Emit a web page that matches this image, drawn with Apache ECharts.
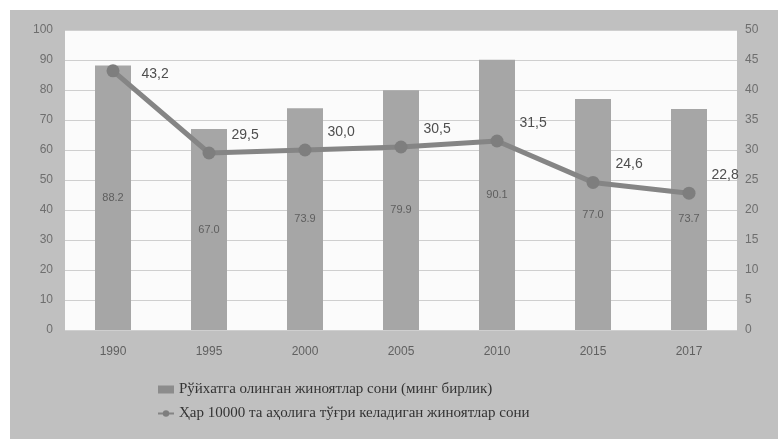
<!DOCTYPE html>
<html>
<head>
<meta charset="utf-8">
<script src="https://cdn.jsdelivr.net/npm/echarts@6/dist/echarts.min.js"></script>
<style>
html,body{margin:0;padding:0;background:#ffffff;width:778px;height:439px;overflow:hidden;}
#chart{position:absolute;left:10px;top:10px;width:768px;height:429px;}
</style>
</head>
<body>
<div id="chart"></div>
<script>
const categories = ['1990', '1995', '2000', '2005', '2010', '2015', '2017'];
const registeredCrimes = [88.2, 67.0, 73.9, 79.9, 90.1, 77.0, 73.7];
const crimesPer10000 = [43.2, 29.5, 30.0, 30.5, 31.5, 24.6, 22.8];
const seriesNames = [
  'Рўйхатга олинган жиноятлар сони (минг бирлик)',
  'Ҳар 10000 та аҳолига тўғри келадиган жиноятлар сони'
];

const chart = echarts.init(document.getElementById('chart'));
const lineData = crimesPer10000.map((v, i) => i === 0
  ? { value: v, label: { offset: [6, 3] } }
  : v);

chart.setOption({
  backgroundColor: '#c0c0c0',
  animation: false,
  textStyle: { fontFamily: 'Liberation Sans' },
  grid: { left: 55, top: 20, width: 672, height: 300, show: true, backgroundColor: '#fbfbfb', borderWidth: 0 },
  legend: {
    orient: 'vertical',
    left: 142,
    top: 367,
    itemGap: 10,
    itemWidth: 16,
    itemHeight: 8,
    itemGap: 9,
    textStyle: { fontFamily: 'Liberation Serif', fontSize: 15, color: '#333333' },
    data: [
      { name: seriesNames[0], icon: 'rect', itemStyle: { color: '#8c8c8c' } },
      { name: seriesNames[1] }
    ]
  },
  xAxis: {
    type: 'category',
    data: categories,
    axisLine: { show: false },
    axisTick: { show: false },
    axisLabel: { margin: 16, color: '#606060', fontSize: 12 }
  },
  yAxis: [
    {
      type: 'value', min: 0, max: 100, interval: 10,
      axisLine: { show: false }, axisTick: { show: false },
      axisLabel: { margin: 12, color: '#6e6e6e', fontSize: 12 },
      splitLine: { lineStyle: { color: '#cfcfcf', width: 1 } }
    },
    {
      type: 'value', min: 0, max: 50, interval: 5,
      axisLine: { show: false }, axisTick: { show: false },
      axisLabel: { margin: 8, color: '#6e6e6e', fontSize: 12 },
      splitLine: { show: false }
    }
  ],
  series: [
    {
      name: seriesNames[0],
      type: 'bar',
      data: registeredCrimes,
      barWidth: 36,
      itemStyle: { color: '#a6a6a6' },
      label: {
        show: true, position: 'inside', color: '#5e5e5e', fontSize: 11,
        formatter: p => p.value.toFixed(1)
      }
    },
    {
      name: seriesNames[1],
      type: 'line',
      yAxisIndex: 1,
      data: lineData,
      symbol: 'circle',
      symbolSize: 13,
      lineStyle: { color: '#858585', width: 5 },
      itemStyle: { color: '#7e7e7e' },
      label: {
        show: true, position: 'right', distance: 16, offset: [0, -18],
        color: '#4e4e4e', fontSize: 14,
        formatter: p => (typeof p.value === 'number' ? p.value : p.data.value).toFixed(1).replace('.', ',')
      },
      z: 5
    }
  ]
});
</script>
</body>
</html>
